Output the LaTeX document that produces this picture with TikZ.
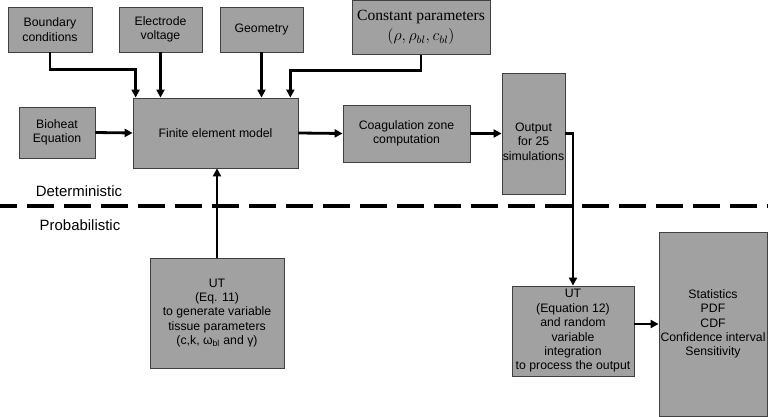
\documentclass[tikz,border=0pt]{standalone}
\usepackage{fontspec}
\setmainfont{Liberation Sans}
\newfontfamily\serifface{Liberation Serif}
\usetikzlibrary{arrows.meta}

\begin{document}
\begin{tikzpicture}[x=0.75pt, y=-0.75pt,
        box/.style={draw=black!75, line width=0.6pt, fill=black!37, align=center, inner sep=0.5pt,
            font=\fontsize{9.2}{10.8}\selectfont},
        arr/.style={line width=2.1pt, -{Triangle[length=6pt,width=6pt]}},
        lbl/.style={font=\fontsize{11.2}{13}\selectfont}]
        \useasboundingbox (0,0) rectangle (768,417);

        % Inputs of the deterministic model
        \node[box, minimum width=63pt, minimum height=33.75pt] (bc) at (50,29.5) {Boundary\\conditions};
        \node[box, minimum width=62.25pt, minimum height=33.75pt] (ev) at (160.5,29.5) {Electrode\\voltage};
        \node[box, minimum width=62.25pt, minimum height=33.75pt] (geo) at (261.5,29.5) {Geometry};
        \node[box, minimum width=103.5pt, minimum height=40.5pt,
            font=\serifface\fontsize{11.7}{15}\selectfont] (cp) at (421,27.5) {Constant parameters\\$(\rho, \rho_{bl}, c_{bl})$};
        \node[box, minimum width=57pt, minimum height=38.25pt] (bio) at (57,132.5) {Bioheat\\Equation};

        % Deterministic chain
        \node[box, minimum width=123.75pt, minimum height=52.5pt] (fem) at (215.5,133) {Finite element model};
        \node[box, minimum width=95.25pt, minimum height=42.75pt] (coag) at (406.5,133.5) {Coagulation zone\\computation};
        \node[box, minimum width=47.25pt, minimum height=90.75pt] (out) at (533.5,133.5) {};
        \node[font=\fontsize{9.2}{10.8}\selectfont, align=center, inner sep=0pt] (outtxt) at (533.5,141.5) {Output\\for 25\\simulations};

        % Probabilistic part
        \node[box, minimum width=100.5pt, minimum height=82.5pt] (ut11) at (217,313)
            {UT\\(Eq. 11)\\to generate variable\\tissue parameters\\(c,k, ω\textsubscript{bl} and γ)};
        \node[box, minimum width=91.5pt, minimum height=67.5pt] (ut12) at (573,331)
            {UT\\(Equation 12)\\and random\\variable\\integration\\to process the output};
        \node[box, minimum width=81pt, minimum height=138pt] (stats) at (713,324)
            {Statistics\\PDF\\CDF\\Confidence interval\\Sensitivity};

        % Separation line
        \draw[line width=2.6pt, dash pattern=on 20.25pt off 7.5pt, dash phase=7.5pt] (0,206) -- (768,206);
        \node[lbl] (det) at (79,191) {Deterministic};
        \node[lbl] (prob) at (80,225) {Probabilistic};

        % Connectors
        \draw[arr] (bc.south) -- ++(0,17) -| ([xshift=2.25pt]fem.north west);
        \draw[arr] (ev.south) -- (ev.south |- fem.north);
        \draw[arr] (geo.south) -- (geo.south |- fem.north);
        \draw[arr] (cp.south) -- ++(0,16) -| ([xshift=-6pt]fem.north east);
        \draw[arr] (bio.east) -- (fem.west);
        \draw[arr] (fem.east) -- (coag.west);
        \draw[arr] (coag.east) -- (out.west);
        \draw[arr] (out.east) -| (ut12.north);
        \draw[arr] (ut11.north) -- (ut11.north |- fem.south);
        \draw[arr] (ut12.east |- stats.west) -- (stats.west);
\end{tikzpicture}
\end{document}
